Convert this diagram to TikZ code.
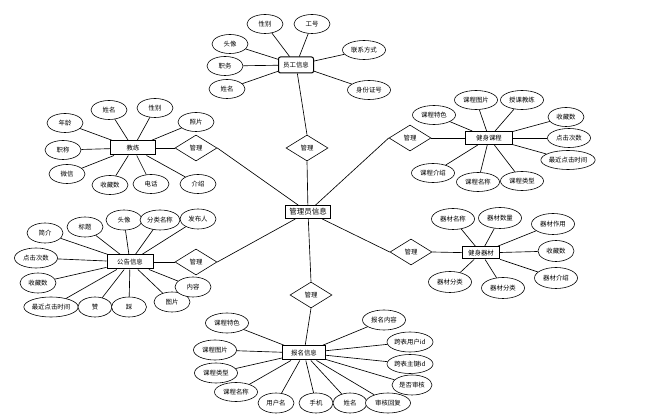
\documentclass[tikz,border=0pt]{standalone}
\usepackage{fontspec}
\setmainfont{Noto Sans CJK SC}
\usetikzlibrary{shapes.geometric}
\begin{document}
\begin{tikzpicture}[x=1pt,y=-1pt,
 lbl/.style={font=\fontsize{6.4}{7}\selectfont},
 attr/.style={ellipse,draw,fill=white,line width=0.6pt,minimum width=36pt,minimum height=19pt,inner sep=0pt,lbl},
 wattr/.style={attr,minimum width=43pt},
 lattr/.style={attr,minimum width=52pt},
 ent/.style={rectangle,draw,fill=white,line width=1pt,minimum width=45pt,minimum height=14pt,inner sep=0pt,lbl},
 rel/.style={diamond,draw,fill=white,line width=0.6pt,minimum width=42pt,minimum height=26pt,inner sep=0pt,lbl},
 link/.style={line width=0.65pt}]
\useasboundingbox (0,0) rectangle (648,419);

% central
\node[ent,minimum width=45pt,minimum height=13pt,font=\fontsize{7.5}{8}\selectfont] (adm) at (308,212) {管理员信息};
\node[rel] (dT) at (307,148) {管理};
\node[rel] (dL1) at (196,148) {管理};
\node[rel] (dR1) at (410,138) {管理};
\node[rel] (dR2) at (411,252) {管理};
\node[rel] (dL2) at (196,262) {管理};
\node[rel] (dB) at (311,295) {管理};

% employee
\node[ent,rounded corners=2pt,minimum width=35pt,minimum height=16pt] (emp) at (296,65) {员工信息};
\node[attr] (e1) at (265,24) {性别};
\node[attr] (e2) at (312,24) {工号};
\node[attr] (e3) at (230,44) {头像};
\node[attr] (e4) at (225,66) {职务};
\node[attr] (e5) at (227,89) {姓名};
\node[wattr] (e6) at (364,50) {联系方式};
\node[wattr] (e7) at (369,90) {身份证号};

% coach
\node[ent] (co) at (133,148) {教练};
\node[attr] (c1) at (109,110) {姓名};
\node[attr] (c2) at (155,108) {性别};
\node[attr] (c3) at (196,122) {照片};
\node[attr] (c4) at (65,123) {年龄};
\node[attr] (c5) at (63,150) {职称};
\node[attr] (c6) at (67,174) {微信};
\node[attr] (c7) at (110,185) {收藏数};
\node[attr] (c8) at (151,184) {电话};
\node[attr] (c9) at (198,184) {介绍};

% course
\node[ent,minimum width=47pt,minimum height=13pt] (cs) at (489,138) {健身课程};
\node[wattr] (k1) at (434,115) {课程特色};
\node[wattr] (k2) at (476,100) {课程图片};
\node[wattr] (k3) at (522,100) {授课教练};
\node[attr] (k4) at (566,117) {收藏数};
\node[wattr] (k5) at (569,138) {点击次数};
\node[lattr] (k6) at (568,160) {最近点击时间};
\node[wattr] (k7) at (433,173) {课程介绍};
\node[wattr] (k8) at (478,182) {课程名称};
\node[wattr] (k9) at (522,181) {课程类型};

% equipment
\node[ent,minimum width=37pt,minimum height=12pt] (eq) at (481,253) {健身器材};
\node[wattr,minimum height=21pt] (q1) at (453,219) {器材名称};
\node[wattr,minimum height=21pt] (q2) at (500,218) {器材数量};
\node[wattr,minimum height=21pt] (q3) at (553,224) {器材作用};
\node[attr,minimum height=21pt] (q4) at (556,251) {收藏数};
\node[wattr,minimum height=21pt] (q5) at (556,278) {器材介绍};
\node[wattr,minimum height=21pt] (q6) at (450,282) {器材分类};
\node[wattr,minimum height=21pt] (q7) at (503,288) {器材分类};

% notice
\node[ent,minimum width=46pt] (nt) at (130,262) {公告信息};
\node[attr,minimum height=20pt] (n1) at (45,233) {简介};
\node[attr,minimum height=20pt] (n2) at (85,227) {标题};
\node[attr,minimum height=20pt] (n3) at (124,220) {头像};
\node[wattr,minimum width=40pt,minimum height=20pt] (n4) at (160,220) {分类名称};
\node[attr,minimum height=20pt] (n5) at (198,219) {发布人};
\node[wattr,minimum height=20pt] (n6) at (36,258) {点击次数};
\node[attr,minimum height=20pt] (n7) at (38,283) {收藏数};
\node[lattr,minimum height=20pt] (n8) at (51,307) {最近点击时间};
\node[attr,minimum width=34pt,minimum height=20pt] (n9) at (95,307) {赞};
\node[attr,minimum width=35pt,minimum height=20pt] (n10) at (129,307) {踩};
\node[attr,minimum height=20pt] (n11) at (172,302) {图片};
\node[attr,minimum height=20pt] (n12) at (193,287) {内容};

% registration
\node[ent,minimum width=43pt] (rg) at (304,353) {报名信息};
\node[wattr,minimum height=20pt] (r1) at (227,323) {课程特色};
\node[wattr,minimum height=20pt] (r2) at (215,350) {课程图片};
\node[wattr,minimum height=20pt] (r3) at (216,373) {课程类型};
\node[wattr,minimum height=19pt] (r4) at (236,392) {课程名称};
\node[attr,minimum height=20pt] (r5) at (276,403) {用户名};
\node[attr,minimum width=34pt,minimum height=20pt] (r6) at (316,403) {手机};
\node[attr,minimum width=34pt,minimum height=20pt] (r7) at (350,403) {姓名};
\node[wattr,minimum width=45pt,minimum height=20pt] (r8) at (388,403) {审核回复};
\node[wattr,minimum height=20pt] (r9) at (384,320) {报名内容};
\node[wattr,minimum width=46pt,minimum height=20pt] (r10) at (410,342) {跨表用户id};
\node[wattr,minimum width=46pt,minimum height=19pt] (r11) at (410,364) {跨表主键id};
\node[wattr,minimum width=40pt,minimum height=20pt] (r12) at (412,385) {是否审核};

% connectors
\foreach \a in {e1,e2,e3,e4,e5,e6,e7} \draw[link] (\a) -- (emp);
\foreach \a in {c1,c2,c3,c4,c5,c6,c7,c8,c9} \draw[link] (\a) -- (co);
\foreach \a in {k1,k2,k3,k4,k5,k6,k7,k8,k9} \draw[link] (\a) -- (cs);
\foreach \a in {q1,q2,q3,q4,q5,q6,q7} \draw[link] (\a) -- (eq);
\foreach \a in {n1,n2,n3,n4,n5,n6,n7,n8,n9,n10,n11,n12} \draw[link] (\a) -- (nt);
\foreach \a in {r1,r2,r3,r4,r5,r6,r7,r8,r9,r10,r11,r12} \draw[link] (\a) -- (rg);

\draw[link] (emp) -- (dT.north);
\draw[link] (dT.south) -- (adm);
\draw[link] (co) -- (dL1.west);
\draw[link] (dL1.east) -- (adm);
\draw[link] (cs) -- (dR1.east);
\draw[link] (dR1.west) -- (adm);
\draw[link] (eq) -- (dR2.east);
\draw[link] (dR2.west) -- (adm);
\draw[link] (nt) -- (dL2.west);
\draw[link] (dL2.east) -- (adm);
\draw[link] (rg) -- (dB.south);
\draw[link] (dB.north) -- (adm);
\end{tikzpicture}
\end{document}
